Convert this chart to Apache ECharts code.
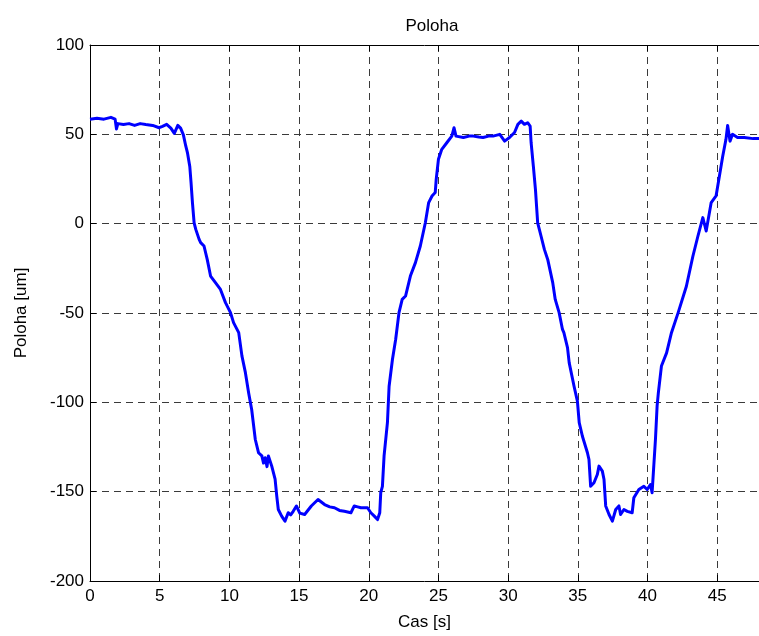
<!DOCTYPE html>
<html>
<head>
<meta charset="utf-8">
<title>Poloha</title>
<script src="https://cdn.jsdelivr.net/npm/echarts@6/dist/echarts.min.js"></script>
<style>
  html, body { margin: 0; padding: 0; background: #fff; }
  #chart { width: 759px; height: 636px; }
</style>
</head>
<body>
<div id="chart"></div>
<script>
// Measured position of the stage over time
const timeS = [
  0, 0.5, 1.0, 1.5, 1.8, 1.9, 2.0, 2.4, 2.8, 3.2, 3.6, 4.0, 4.5, 4.96, 5.2, 5.5, 5.8, 6.05, 6.3, 6.5, 6.7,
  6.87, 6.99, 7.16, 7.25, 7.35, 7.47, 7.59, 7.83, 7.94, 8.18, 8.41, 8.65, 9.0, 9.36, 9.72, 10.08,
  10.3, 10.67, 10.9, 11.15, 11.38, 11.6, 11.86, 12.09, 12.33, 12.45, 12.57, 12.7, 12.8, 13.04, 13.28, 13.4,
  13.51, 13.75, 13.99, 14.22, 14.4, 14.58, 14.81, 15.05, 15.4, 15.88, 16.36, 16.83, 17.2, 17.54, 17.9, 18.25,
  18.72, 18.96, 19.2, 19.44, 19.91, 20.15, 20.4, 20.63, 20.79, 20.86, 20.98, 21.1, 21.34, 21.46, 21.7, 21.93,
  22.17, 22.4, 22.64, 23.0, 23.35, 23.7, 24.06, 24.3, 24.54, 24.77, 24.84, 25.0, 25.24, 25.6, 25.96, 26.12,
  26.26, 26.79, 27.2, 27.5, 27.9, 28.2, 28.6, 28.92, 29.4, 29.75, 30.1, 30.46, 30.7, 30.94, 31.17, 31.4,
  31.58, 31.65, 31.81, 31.96, 32.12, 32.36, 32.6, 32.84, 33.2, 33.38, 33.66, 33.9, 34.0, 34.26, 34.38, 34.73,
  34.97, 35.1, 35.33, 35.69, 35.8, 35.92, 36.16, 36.4, 36.52, 36.76, 36.88, 37.0, 37.24, 37.48, 37.72, 37.95,
  38.07, 38.31, 38.55, 38.9, 39.02, 39.38, 39.74, 39.98, 40.21, 40.33, 40.45, 40.57, 40.69, 40.78, 41.0, 41.37,
  41.72, 42.2, 42.79, 43.26, 43.62, 43.97, 44.21, 44.57, 44.92, 45.16, 45.4, 45.63, 45.75, 45.92, 46.1, 46.46,
  46.94, 47.58, 48.0
];
const positionUm = [
  58.5, 59, 58.5, 59.5, 58.5, 53, 56, 55.5, 56, 55, 56, 55.5, 55, 53.7, 54.5, 55.6, 53.5, 50.5, 55, 53.5, 49.7,
  43.5, 39.8, 32, 23, 11.8, 0.5, -3.2, -8.8, -10.6, -12.5, -20, -29.3, -33, -36.8, -44.2, -49.8,
  -55.4, -61, -74, -83.4, -94.6, -104, -120.8, -128.2, -130, -134, -131, -136, -130, -135.7, -143, -152.5,
  -160, -163.7, -166.5, -161.8, -163, -161, -158, -162, -162.8, -158, -154.4, -157.2, -158.5, -159, -160.5, -161,
  -161.8, -158, -158.5, -159, -159, -161.8, -163.7, -165.6, -161.8, -150.6, -147, -130, -111.4, -91, -76, -64.8,
  -49.8, -42.4, -40.5, -29, -21.8, -12.5, 0.5, 11.8, 15.5, 17.4, 24.8, 36, 41.6, 45.3, 49, 53.7,
  49, 48.2, 49, 49, 48.5, 48.2, 49, 49, 50, 46.2, 48.2, 51, 55.6, 57.4, 55.6, 56.5,
  54.6, 45.3, 32.2, 19.2, 0.5, -6.9, -14.4, -20, -33, -42.4, -49.8, -59.2, -61, -69.4, -77.8, -91,
  -99.3, -111.4, -119, -128.2, -132, -147, -145, -140.4, -135.7, -138.5, -143.2, -158, -162.8, -166.5, -160, -158,
  -162.8, -160, -161, -161.8, -153.4, -148.8, -147, -148.8, -146, -150.6, -135.7, -120.8, -102, -94.6, -79.7, -72.3,
  -61, -49.8, -35, -18.1, -6.9, 3.4, -4.1, 11.8, 15.5, 26.7, 37.9, 47.2, 55, 46.2, 50, 48.2,
  48.2, 47.6, 47.6
];

const xTicksStep = 5;
const yTicksStep = 50;

const points = timeS.map((t, i) => [t, positionUm[i]]);

const FONT = 'Liberation Sans, Arial, sans-serif';
const gridDash = { color: '#3a3a3a', width: 1, type: [7, 5] };

const chart = echarts.init(document.getElementById('chart'), null, { renderer: 'canvas' });
chart.setOption({
  animation: false,
  backgroundColor: '#ffffff',
  title: {
    text: 'Poloha',
    left: 427,
    top: 13,
    textAlign: 'center',
    textStyle: { fontFamily: FONT, fontSize: 17, fontWeight: 'normal', color: '#000' }
  },
  grid: { left: 90, top: 45, right: -6, bottom: 55, containLabel: false },
  xAxis: [
    {
      type: 'value',
      min: 0,
      max: 48,
      interval: xTicksStep,
      name: 'Cas [s]',
      nameLocation: 'middle',
      nameGap: 33,
      nameTextStyle: { fontFamily: FONT, fontSize: 17, color: '#000' },
      axisLine: { show: true, onZero: false, lineStyle: { color: '#000', width: 1 } },
      axisTick: { show: true, inside: true, length: 6, lineStyle: { color: '#000' } },
      axisLabel: { fontFamily: FONT, fontSize: 17, color: '#000', margin: 7, showMaxLabel: false },
      splitLine: { show: true, lineStyle: gridDash }
    },
    {
      type: 'value',
      position: 'top',
      min: 0,
      max: 48,
      interval: xTicksStep,
      axisLine: { show: true, onZero: false, lineStyle: { color: '#000', width: 1 } },
      axisTick: { show: true, inside: true, length: 6, lineStyle: { color: '#000' } },
      axisLabel: { show: false },
      splitLine: { show: false }
    }
  ],
  yAxis: {
    type: 'value',
    min: -200,
    max: 100,
    interval: yTicksStep,
    name: 'Poloha [um]',
    nameLocation: 'middle',
    nameGap: 60,
    nameTextStyle: { fontFamily: FONT, fontSize: 17, color: '#000' },
    axisLine: { show: true, onZero: false, lineStyle: { color: '#000', width: 1 } },
    axisTick: { show: true, inside: true, length: 6, lineStyle: { color: '#000' } },
    axisLabel: { fontFamily: FONT, fontSize: 17, color: '#000', margin: 6 },
    splitLine: { show: true, lineStyle: gridDash }
  },
  series: [{
    type: 'line',
    xAxisIndex: 0,
    data: points,
    showSymbol: false,
    symbol: 'none',
    lineStyle: { color: '#0000ff', width: 3, join: 'round' },
    itemStyle: { color: '#0000ff' },
    z: 5
  }]
});
</script>
</body>
</html>
